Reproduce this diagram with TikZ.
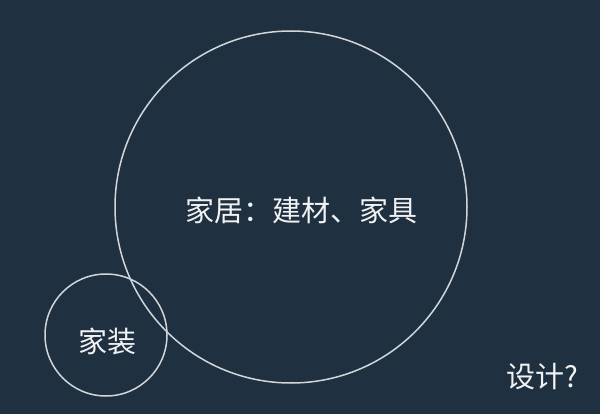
\documentclass[tikz,border=0pt]{standalone}
\usepackage{fontspec}
\newfontfamily\cjk{Noto Sans CJK SC}
\definecolor{bg}{HTML}{1F3041}
\definecolor{ln}{HTML}{D2D6DA}
\definecolor{tx}{HTML}{F2F2F2}
\begin{document}
\begin{tikzpicture}[x=1pt,y=-1pt,
  ring/.style={draw=ln, line width=1.5pt, circle, inner sep=0pt},
  lbl/.style={text=tx, font=\cjk\fontsize{29}{33}\selectfont, inner sep=0pt}]
\fill[bg] (0,0) rectangle (600,414);
\useasboundingbox (0,0) rectangle (600,414);
\node[ring, minimum size=352pt] (big) at (291,207) {};
\node[ring, minimum size=122pt] (small) at (106,335) {};
\node[lbl] (t1) at (301,210) {家居：建材、家具};
\node[lbl] (t2) at (107,341) {家装};
\node[lbl] (t3) at (542,377) {设计?};
\end{tikzpicture}
\end{document}
